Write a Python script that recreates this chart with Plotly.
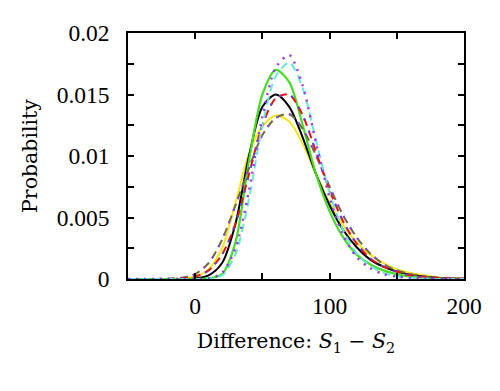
import plotly.graph_objects as go

x = [-50, -40, -30, -20, -10, 0, 10, 20, 30, 40, 50, 60, 70, 80, 90, 100,
     110, 120, 130, 140, 150, 160, 170, 180, 190, 200]

green = [0, 0, 0, 0, 0, 0, 0.00005, 0.0004, 0.0030, 0.0096, 0.0150, 0.0170, 0.0160,
         0.0125, 0.0085, 0.0055, 0.0034, 0.0020, 0.0012, 0.0007, 0.0004, 0.0002,
         0.0001, 0.00003, 0, 0]
black = [0, 0, 0, 0, 0, 0.00005, 0.0003, 0.0013, 0.0045, 0.0100, 0.0140, 0.0150,
         0.0140, 0.0115, 0.0085, 0.0060, 0.0040, 0.0026, 0.0016, 0.0010, 0.0006,
         0.00035, 0.0002, 0.0001, 0.00005, 0.00002]
yellow = [0, 0, 0, 0, 0.00005, 0.0002, 0.0008, 0.0025, 0.0062, 0.0102, 0.0124,
          0.0133, 0.0128, 0.0110, 0.0085, 0.0062, 0.0044, 0.0030, 0.0020, 0.0013,
          0.0008, 0.0005, 0.0003, 0.00015, 0.00008, 0.00004]
red = [0, 0, 0, 0, 0.00005, 0.0002, 0.0007, 0.0020, 0.0045, 0.0085, 0.0125, 0.0147,
       0.0150, 0.0133, 0.0103, 0.0072, 0.0047, 0.0029, 0.0017, 0.0010, 0.0006,
       0.0003, 0.00015, 0.00008, 0.00004, 0.00002]
olive = [0, 0, 0, 0.00003, 0.0001, 0.0004, 0.0013, 0.0032, 0.0060, 0.0090, 0.0117,
         0.0131, 0.0134, 0.0122, 0.0100, 0.0075, 0.0052, 0.0034, 0.0021, 0.0012,
         0.0007, 0.0004, 0.0002, 0.0001, 0.00005, 0.00002]
cyan = [0, 0, 0, 0, 0, 0, 0.00003, 0.0003, 0.0020, 0.0065, 0.0125, 0.0165, 0.0176,
        0.0155, 0.0112, 0.0070, 0.0040, 0.0021, 0.0011, 0.0005, 0.0002, 0.0001,
        0.00004, 0, 0, 0]
purple = [0, 0, 0, 0, 0, 0, 0.00005, 0.0005, 0.0025, 0.0072, 0.0132, 0.0172, 0.0182,
          0.0157, 0.0110, 0.0066, 0.0036, 0.0018, 0.0009, 0.0004, 0.0002, 0.0001,
          0.00004, 0, 0, 0]

x_tickvals = [0, 100, 200]
x_ticktext = ["0", "100", "200"]
x_minor = [50, 150]
y_tickvals = [0, 0.005, 0.01, 0.015, 0.02]
y_ticktext = ["0", "0.005", "0.01", "0.015", "0.02"]
y_minor = [0.0025, 0.0075, 0.0125, 0.0175]

series = [
    (yellow, "#f5e51b", "solid", 2),
    (black, "#000000", "solid", 2),
    (green, "#44dd22", "solid", 2.2),
    (olive, "#6f6a45", "8px,5px", 2),
    (olive, "#8844ee", "2px,11px", 2),
    (red, "#e81010", "8px,5px", 2),
    (red, "#5544ee", "2px,11px", 2),
    (cyan, "#66e6d6", "8px,5px", 2),
    (purple, "#9933ee", "2px,6px", 2.4),
]

fig = go.Figure()
for ys, col, dash, w in series:
    fig.add_trace(go.Scatter(x=x, y=ys, mode="lines",
                             line=dict(color=col, dash=dash, width=w, shape="spline", smoothing=0.8),
                             showlegend=False, hoverinfo="skip"))

tickfont = dict(family="Liberation Serif, serif", size=23.5, color="black")
titlefont = dict(family="DejaVu Serif, serif", size=20.5, color="black")
fig.update_layout(
    width=500, height=391,
    margin=dict(l=120, r=44, t=22, b=120),
    paper_bgcolor="white", plot_bgcolor="white",
    font=dict(family="Liberation Serif, serif", size=23, color="black"),
    xaxis=dict(range=[-50, 200], tickvals=x_tickvals, ticktext=x_ticktext,
               ticks="inside", ticklen=6, tickwidth=1.5, tickcolor="black",
               minor=dict(tickmode="array", tickvals=x_minor, ticks="inside", ticklen=6,
                          tickwidth=1.5, tickcolor="black", showgrid=False),
               showline=True, linecolor="black", linewidth=1.5, mirror="ticks",
               showgrid=False, zeroline=False, ticklabelstandoff=5, tickfont=tickfont,
               title=dict(text="Difference: <i>S</i><sub>1</sub> − <i>S</i><sub>2</sub>",
                          font=titlefont, standoff=16)),
    yaxis=dict(range=[0, 0.02], tickvals=y_tickvals, ticktext=y_ticktext,
               ticks="inside", ticklen=6, tickwidth=1.5, tickcolor="black",
               minor=dict(tickmode="array", tickvals=y_minor, ticks="inside", ticklen=6,
                          tickwidth=1.5, tickcolor="black", showgrid=False),
               showline=True, linecolor="black", linewidth=1.5, mirror="ticks",
               showgrid=False, zeroline=False, ticklabelstandoff=12, tickfont=tickfont,
               title=dict(text="Probability", font=titlefont, standoff=13)),
)

fig.write_html("out.html")
